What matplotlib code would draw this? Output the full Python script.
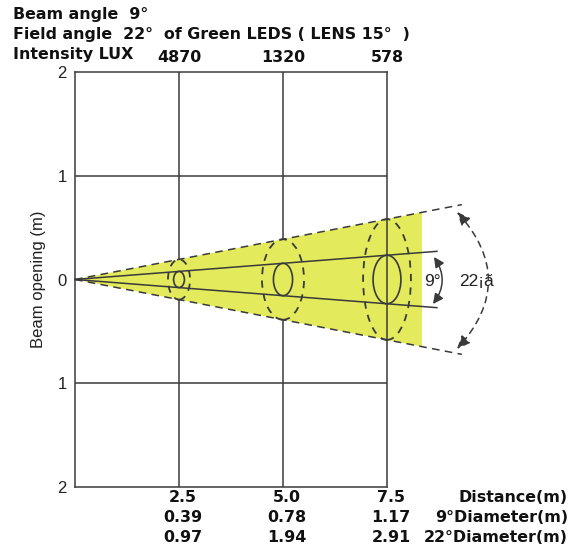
import matplotlib.pyplot as plt
import matplotlib.transforms as mtransforms
from matplotlib.patches import Ellipse, Polygon, FancyArrowPatch

# values
distance = [2.5, 5.0, 7.5]           # m
lux = [4870, 1320, 578]              # intensity LUX
diam_9 = [0.39, 0.78, 1.17]          # 9 deg beam diameter (m)
diam_22 = [0.97, 1.94, 2.91]         # 22 deg field diameter (m)
y_ticks = [-2, -1, 0, 1, 2]
y_labels = ["2", "1", "0", "1", "2"]

# drawing style (the sketch is not to scale)
yscale = 0.4
w_inner = [0.26, 0.46, 0.67]
w_outer = [0.53, 1.01, 1.15]
yellow = "#e3ea5b"
dark = "#3a3a3a"
bold = dict(family="DejaVu Sans", fontweight="bold", fontsize=11.4, color="#111111")
thin = dict(family="Liberation Sans", fontsize=12, color="#222222")

W, H = 573, 552
fig = plt.figure(figsize=(W / 100, H / 100), dpi=100)
ax = fig.add_axes([75 / W, 1 - 487 / H, 312 / W, 415 / H])
ax.set_xlim(0, 7.5)
ax.set_ylim(-2, 2)
for s in ax.spines.values():
    s.set_color(dark)
    s.set_linewidth(1.1)
ax.tick_params(length=0)
ax.set_xticks([])
ax.set_yticks(y_ticks, labels=y_labels, **thin)
ax.tick_params(axis="y", pad=6)
ax.set_ylabel("Beam opening (m)", labelpad=8, **thin)

# grid
for x in distance[:-1]:
    ax.axvline(x, color=dark, lw=1.1, zorder=1)
for y in (-1, 1):
    ax.axhline(y, color=dark, lw=1.1, zorder=1)

# cone slopes from the 7.5 m diameters
k22 = yscale * diam_22[-1] / 2 / distance[-1]
k9 = yscale * diam_9[-1] / 2 / distance[-1]
x_fill, x_dash, x_line = 8.34, 9.3, 8.7

ax.add_patch(Polygon([[0, 0], [x_fill, k22 * x_fill], [x_fill, -k22 * x_fill]],
                     closed=True, fc=yellow, ec="none", zorder=2, clip_on=False))
for sgn in (1, -1):
    ax.plot([0, x_dash], [0, sgn * k22 * x_dash], color=dark, lw=1.1,
            ls=(0, (5, 3.5)), zorder=3, clip_on=False)
    ax.plot([0, x_line], [0, sgn * k9 * x_line], color=dark, lw=1.1,
            zorder=3, clip_on=False)

for d, a, b, wi, wo in zip(distance, diam_9, diam_22, w_inner, w_outer):
    ax.add_patch(Ellipse((d, 0), wi, yscale * a, fc="none", ec=dark, lw=1.2,
                         zorder=4, clip_on=False))
    ax.add_patch(Ellipse((d, 0), wo, yscale * b, fc="none", ec=dark, lw=1.3,
                         ls=(0, (4, 3.5)), zorder=4, clip_on=False))

# angle arrows
px = lambda x, y: ((x - 75) / 41.6, (279.5 - y) / 103.75)
a9 = FancyArrowPatch(px(434, 257), px(433, 304), arrowstyle="<|-|>,head_length=6,head_width=3",
                     connectionstyle="arc3,rad=-0.35", color=dark, lw=1.1, clip_on=False,
                     shrinkA=0, shrinkB=0, zorder=5)
a22 = FancyArrowPatch(px(457, 212), px(457, 349), arrowstyle="<|-|>,head_length=8,head_width=3.5",
                      connectionstyle="arc3,rad=-0.45", color=dark, lw=1.1, ls=(0, (4, 3.5)),
                      clip_on=False, shrinkA=0, shrinkB=0, zorder=5)
ax.add_patch(a9)
ax.add_patch(a22)
ax.text(*px(432, 282), "9°", ha="center", va="center", clip_on=False,
        family="Liberation Sans", fontsize=12.5, color="#222222")
ax.text(*px(477, 282), "22¡ã", ha="center", va="center", clip_on=False,
        family="Liberation Sans", fontsize=12.5, color="#222222")

# header
for i, t in enumerate(["Beam angle  9°",
                       "Field angle  22°  of Green LEDS ( LENS 15°  )",
                       "Intensity LUX"]):
    fig.text(13 / W, 1 - (14 + 20 * i) / H, t, ha="left", va="center", **bold)

# intensity row and bottom rows
tr = mtransforms.blended_transform_factory(ax.transData, fig.transFigure)
for d, v in zip(distance, lux):
    ax.text(d, 1 - 58 / H, str(v), transform=tr, ha="center", va="center", **bold)
rows = [[f"{d:.1f}" for d in distance],
        [f"{v:.2f}" for v in diam_9],
        [f"{v:.2f}" for v in diam_22]]
names = ["Distance(m)", "9°Diameter(m)", "22°Diameter(m)"]
for r, (vals, name) in enumerate(zip(rows, names)):
    yy = 1 - (498 + 20 * r) / H
    for d, t in zip(distance, vals):
        ax.text(d + 0.1, yy, t, transform=tr, ha="center", va="center", **bold)
    fig.text(568 / W, yy, name, ha="right", va="center", **bold)

fig.savefig("out.png", dpi=100)
